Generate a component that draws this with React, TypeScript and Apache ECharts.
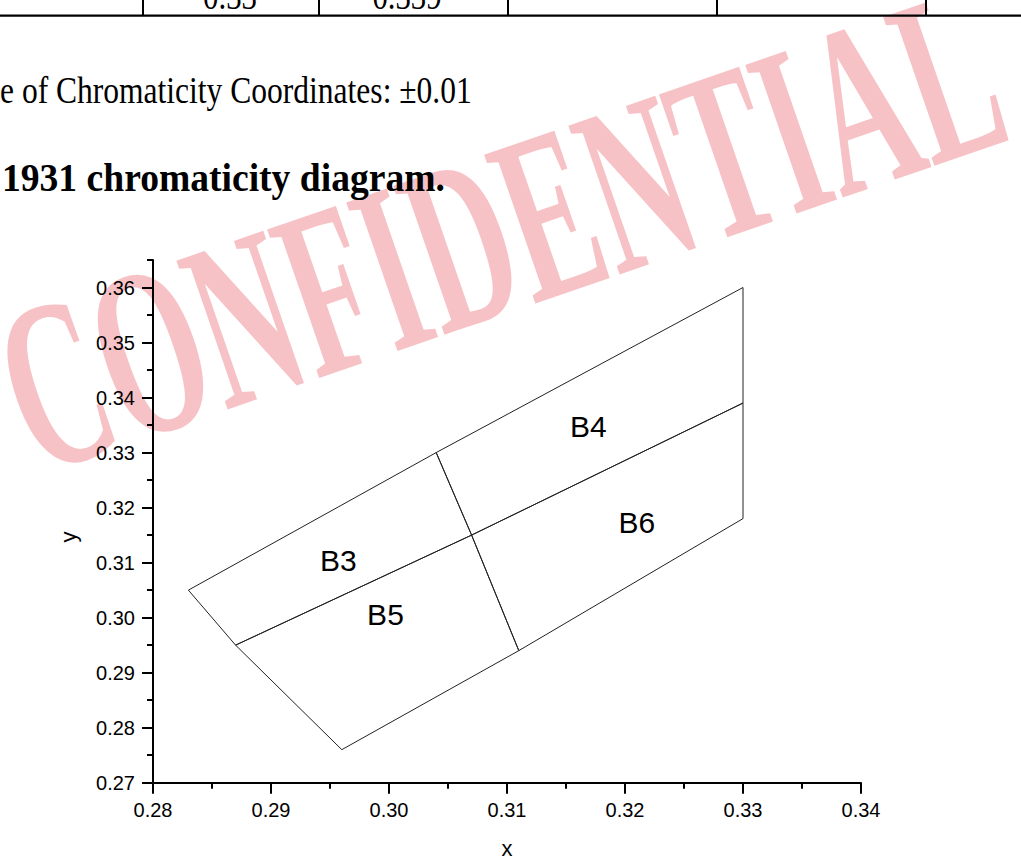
import React, { useEffect, useRef } from 'react';
import * as echarts from 'echarts';

// ---- data ----
const binNames = ['B3', 'B4', 'B5', 'B6'];
const binB3 = [[0.283, 0.305], [0.304, 0.330], [0.307, 0.315], [0.287, 0.295]];
const binB4 = [[0.304, 0.330], [0.330, 0.360], [0.330, 0.339], [0.307, 0.315]];
const binB5 = [[0.287, 0.295], [0.307, 0.315], [0.311, 0.294], [0.296, 0.276]];
const binB6 = [[0.307, 0.315], [0.330, 0.339], [0.330, 0.318], [0.311, 0.294]];
const labelX = [0.2957, 0.3169, 0.2997, 0.3210];
const labelY = [0.3103, 0.3347, 0.3005, 0.3173];
const xTicks = [0.28, 0.29, 0.30, 0.31, 0.32, 0.33, 0.34];
const yTicks = [0.27, 0.28, 0.29, 0.30, 0.31, 0.32, 0.33, 0.34, 0.35, 0.36];
const tableValues = ['0.33', '0.339'];
const noteText = 'e of Chromaticity Coordinates: \u00b10.01';
const headingText = '1931 chromaticity diagram.';
const watermarkText = 'CONFIDENTIAL';

const bins = [binB3, binB4, binB5, binB6];

const SANS = '"Liberation Sans", Arial, sans-serif';
const SERIF = '"Liberation Serif", "Times New Roman", serif';

function txt(x: number, y: number, text: string, fontSize: number, opts: any = {}) {
  const align = opts.align || 'left';
  return {
    type: 'text',
    x,
    y,
    scaleX: opts.scaleX ?? 1,
    rotation: opts.rotation ?? 0,
    z: opts.z ?? 5,
    silent: true,
    style: {
      text,
      fontSize,
      fontFamily: opts.fontFamily || SERIF,
      fontWeight: opts.fontWeight || 'normal',
      fill: opts.fill || '#000',
      align,
      textAlign: align,
      verticalAlign: 'middle',
      textVerticalAlign: 'middle',
    },
  };
}

export default function App() {
  const ref = useRef<HTMLDivElement>(null);
  useEffect(() => {
    if (!ref.current) return;
    const chart = echarts.init(ref.current, undefined, { renderer: 'svg' });

    const axisLineStyle = { color: '#000', width: 2 };
    const tickStyle = { color: '#000', width: 2 };

    const lineSeries = bins.map((pts, i) => ({
      type: 'line',
      name: binNames[i],
      data: [...pts, pts[0]],
      xAxisIndex: 0,
      yAxisIndex: 0,
      symbol: 'none',
      silent: true,
      lineStyle: { color: '#222', width: 1 },
      z: 3,
    }));

    const labelSeries = {
      type: 'scatter',
      xAxisIndex: 0,
      yAxisIndex: 0,
      data: binNames.map((n, i) => [labelX[i], labelY[i], n]),
      symbolSize: 1,
      itemStyle: { color: 'rgba(0,0,0,0)', opacity: 1 },
      silent: true,
      z: 4,
      label: {
        show: true,
        position: 'inside',
        formatter: (p: any) => p.data[2],
        fontSize: 30,
        fontFamily: SANS,
        color: '#000',
        opacity: 1,
      },
    };

    const tableCols = [143, 319, 508, 717, 926];

    const graphic: any[] = [
      {
        type: 'text',
        x: 500,
        y: 230,
        rotation: (19 * Math.PI) / 180,
        scaleX: 0.555,
        z: -10,
        silent: true,
        style: {
          text: watermarkText,
          fontSize: 240,
          fontFamily: SERIF,
          fontWeight: 'bold',
          fill: 'rgba(236,110,118,0.42)',
          align: 'center',
          textAlign: 'center',
          verticalAlign: 'middle',
          textVerticalAlign: 'middle',
        },
      },
      { type: 'rect', silent: true, shape: { x: 0, y: 14.5, width: 1021, height: 2.2 }, style: { fill: '#000' } },
      ...tableCols.map((cx) => ({
        type: 'rect',
        silent: true,
        shape: { x: cx - 1, y: 0, width: 2, height: 16 },
        style: { fill: '#000' },
      })),
      txt(230, 8.5 - 12.8, tableValues[0], 38, { align: 'center', scaleX: 0.81 }),
      txt(407, 8.5 - 12.8, tableValues[1], 38, { align: 'center', scaleX: 0.81 }),
      txt(0, 103 - 12.8, noteText, 38, { scaleX: 0.83 }),
      txt(2, 191 - 13.5, headingText, 40, { scaleX: 0.94, fontWeight: 'bold' }),
      txt(68, 537, 'y', 22, { align: 'center', rotation: Math.PI / 2, fontFamily: SANS }),
    ];

    const option: any = {
      animation: false,
      backgroundColor: '#fff',
      grid: {
        left: 153,
        right: 160,
        top: 260,
        bottom: 77.3,
        containLabel: false,
        outerBoundsMode: 'none',
      },
      xAxis: {
        type: 'value',
        min: 0.28,
        max: 0.34,
        interval: 0.01,
        name: 'x',
        nameLocation: 'middle',
        nameGap: 55,
        nameTextStyle: { fontSize: 22, fontFamily: SANS, color: '#000' },
        axisLine: { show: true, onZero: false, lineStyle: axisLineStyle },
        axisTick: { show: true, inside: false, length: 11, lineStyle: tickStyle, customValues: xTicks },
        minorTick: { show: true, splitNumber: 2, length: 6, lineStyle: tickStyle },
        splitLine: { show: false },
        minorSplitLine: { show: false },
        axisLabel: {
          show: true,
          margin: 17,
          fontSize: 20,
          fontFamily: SANS,
          color: '#000',
          customValues: xTicks,
          formatter: (v: number) => v.toFixed(2),
        },
      },
      yAxis: [
        {
          type: 'value',
          position: 'left',
          min: 0.27,
          max: 0.365,
          interval: 0.01,
          axisLine: { show: true, onZero: false, lineStyle: axisLineStyle },
          axisTick: { show: true, inside: false, length: 11, lineStyle: tickStyle, customValues: yTicks },
          splitLine: { show: false },
          axisLabel: {
            show: true,
            margin: 18,
            fontSize: 20,
            fontFamily: SANS,
            color: '#000',
            customValues: yTicks,
            formatter: (v: number) => v.toFixed(2),
          },
        },
        {
          type: 'value',
          position: 'left',
          offset: 0,
          min: 0.27,
          max: 0.365,
          interval: 0.005,
          axisLine: { show: false, onZero: false },
          axisTick: { show: true, inside: false, length: 6, lineStyle: tickStyle },
          splitLine: { show: false },
          axisLabel: { show: false },
        },
      ],
      series: [...lineSeries, labelSeries],
      graphic,
    };

    chart.setOption(option);
    return () => chart.dispose();
  }, []);

  return (
    <div
      ref={ref}
      style={{ position: 'fixed', left: 0, top: 0, width: 1021, height: 860, background: '#fff' }}
    />
  );
}
